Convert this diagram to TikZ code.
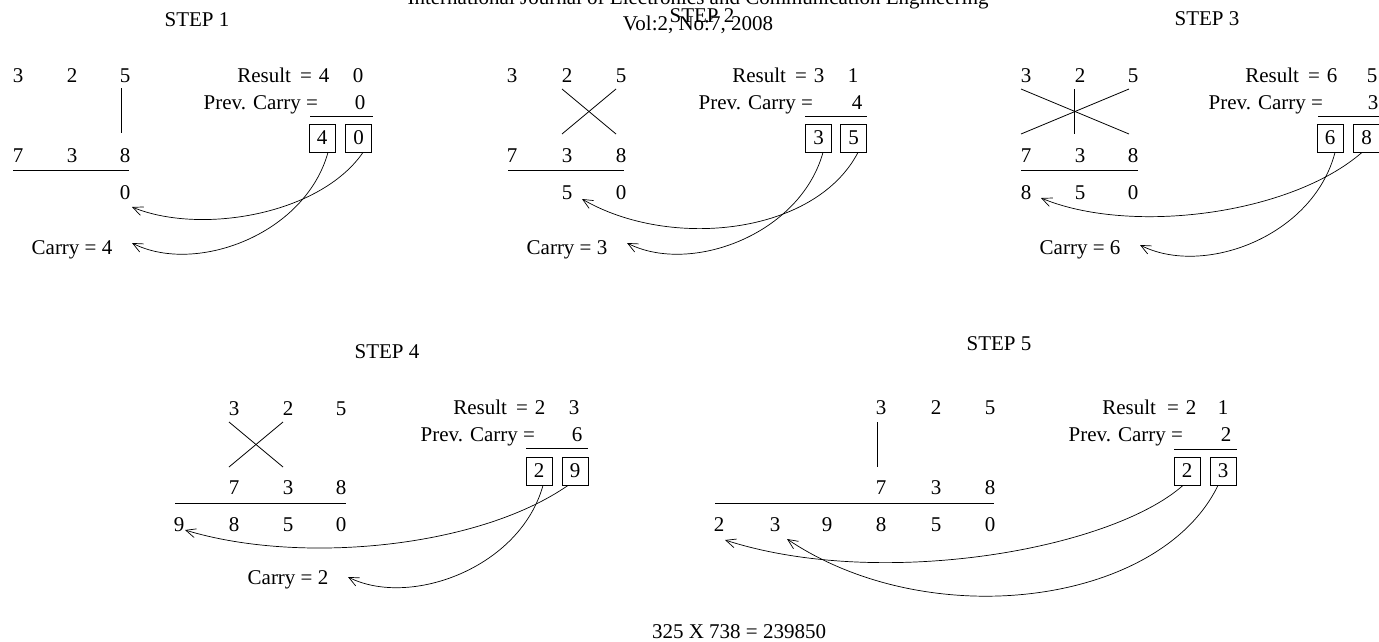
\documentclass[tikz,border=0pt]{standalone}
\usepackage{fontspec}
\setmainfont{Liberation Serif}
\usetikzlibrary{arrows.meta}
\tikzset{
  txt/.style={inner sep=0pt, outer sep=0pt, anchor=base},
  digbox/.style={draw, line width=0.8pt, minimum width=26pt, minimum height=28pt, inner sep=0pt},
  rule/.style={line width=0.8pt},
  arr/.style={line width=0.7pt, -{Straight Barb[length=10pt,width=9pt]}},
}
\begin{document}
\begin{tikzpicture}[x=1pt, y=-1pt, font=\fontsize{21}{25}\selectfont]
\useasboundingbox (0,0) rectangle (1379,641);
\clip (0,0) rectangle (1379,641);
% header
\node[txt] (hdr1) at (698,4) {International Journal of Electronics and Communication Engineering};
\node[txt] (hdr2) at (698,30) {Vol:2, No:7, 2008};

% ---------- STEP 1 ----------
\node[txt] (s1title) at (197,26) {STEP 1};
\node[txt] (s1a1) at (18,82) {3};
\node[txt] (s1a2) at (72,82) {2};
\node[txt] (s1a3) at (125,82) {5};
\node[txt] (s1b1) at (18,162) {7};
\node[txt] (s1b2) at (72,162) {3};
\node[txt] (s1b3) at (125,162) {8};
\draw[rule] (121,88) -- (121,133);
\draw[rule] (13,170) -- (129,170);
\node[txt] (s1r3) at (125,199) {0};
\node[txt] (s1carry) at (72,254) {Carry = 4};
\node[txt, anchor=base east] (s1res) at (291,82) {Result};
\node[txt] (s1eq) at (306,82) {=};
\node[txt] (s1rd1) at (324,82) {4};
\node[txt] (s1rd2) at (358,82) {0};
\node[txt, anchor=base east] (s1prev) at (318,109) {Prev. Carry =};
\node[txt] (s1pd) at (360,109) {0};
\draw[rule] (310,116) -- (373,116);
\node[digbox] (s1x1) at (322,138) {4};
\node[digbox] (s1x2) at (358.5,138) {0};
\coordinate (s1t1) at (132,243);
\coordinate (s1t2) at (132,207);
\draw[arr] ([xshift=6pt]s1x1.south) .. controls (305,235) and (195,275) .. (s1t1);
\draw[arr] ([xshift=4.5pt]s1x2.south) .. controls (320,215) and (200,235) .. (s1t2);

% ---------- STEP 2 ----------
\node[txt] (s2title) at (702,22) {STEP 2};
\node[txt] (s2a1) at (512,82) {3};
\node[txt] (s2a2) at (567,82) {2};
\node[txt] (s2a3) at (621,82) {5};
\node[txt] (s2b1) at (512,162) {7};
\node[txt] (s2b2) at (567,162) {3};
\node[txt] (s2b3) at (621,162) {8};
\draw[rule] (562,89) -- (616,134);
\draw[rule] (616,89) -- (562,134);
\draw[rule] (508,170) -- (624,170);
\node[txt] (s2r2) at (567,199) {5};
\node[txt] (s2r3) at (621,199) {0};
\node[txt] (s2carry) at (567,254) {Carry = 3};
\node[txt, anchor=base east] (s2res) at (786,82) {Result};
\node[txt] (s2eq) at (801,82) {=};
\node[txt] (s2rd1) at (819,82) {3};
\node[txt] (s2rd2) at (853,82) {1};
\node[txt, anchor=base east] (s2prev) at (813,109) {Prev. Carry =};
\node[txt] (s2pd) at (857,109) {4};
\draw[rule] (805,116) -- (867,116);
\node[digbox] (s2x1) at (818.5,138) {3};
\node[digbox] (s2x2) at (853.5,138) {5};
\coordinate (s2t1) at (627,243);
\coordinate (s2t2) at (582,199);
\draw[arr] ([xshift=4.5pt]s2x1.south) .. controls (800,235) and (690,275) .. (s2t1);
\draw[arr] ([xshift=4.5pt]s2x2.south) .. controls (815,235) and (670,250) .. (s2t2);

% ---------- STEP 3 ----------
\node[txt] (s3title) at (1207,25) {STEP 3};
\node[txt] (s3a1) at (1026,82) {3};
\node[txt] (s3a2) at (1080,82) {2};
\node[txt] (s3a3) at (1133,82) {5};
\node[txt] (s3b1) at (1026,162) {7};
\node[txt] (s3b2) at (1080,162) {3};
\node[txt] (s3b3) at (1133,162) {8};
\draw[rule] (1021,89) -- (1129,134);
\draw[rule] (1021,134) -- (1129,89);
\draw[rule] (1074,89) -- (1074,134);
\draw[rule] (1021,170) -- (1138,170);
\node[txt] (s3r1) at (1026,199) {8};
\node[txt] (s3r2) at (1080,199) {5};
\node[txt] (s3r3) at (1133,199) {0};
\node[txt] (s3carry) at (1080,254) {Carry = 6};
\node[txt, anchor=base east] (s3res) at (1299,82) {Result};
\node[txt] (s3eq) at (1314,82) {=};
\node[txt] (s3rd1) at (1332,82) {6};
\node[txt] (s3rd2) at (1372,82) {5};
\node[txt, anchor=base east] (s3prev) at (1323,109) {Prev. Carry =};
\node[txt] (s3pd) at (1373,109) {3};
\draw[rule] (1318,116) -- (1390,116);
\node[digbox] (s3x1) at (1330,138) {6};
\node[digbox] (s3x2) at (1366.5,138) {8};
\coordinate (s3t1) at (1140,245);
\coordinate (s3t2) at (1041,198);
\draw[arr] ([xshift=5pt]s3x1.south) .. controls (1313,237) and (1203,277) .. (s3t1);
\draw[arr] ([xshift=-4.5pt]s3x2.south) .. controls (1290,215) and (1130,235) .. (s3t2);

% ---------- STEP 4 ----------
\node[txt] (s4title) at (387,358) {STEP 4};
\node[txt] (s4a2) at (234,415) {3};
\node[txt] (s4a3) at (288,415) {2};
\node[txt] (s4a4) at (341,415) {5};
\node[txt] (s4b2) at (234,494) {7};
\node[txt] (s4b3) at (288,494) {3};
\node[txt] (s4b4) at (341,494) {8};
\draw[rule] (229,422) -- (283,467);
\draw[rule] (283,422) -- (229,467);
\draw[rule] (175,503) -- (346,503);
\node[txt] (s4r1) at (179,531) {9};
\node[txt] (s4r2) at (234,531) {8};
\node[txt] (s4r3) at (288,531) {5};
\node[txt] (s4r4) at (341,531) {0};
\node[txt] (s4carry) at (288,584) {Carry = 2};
\node[txt, anchor=base east] (s4res) at (507,414) {Result};
\node[txt] (s4eq) at (522,414) {=};
\node[txt] (s4rd1) at (540,414) {2};
\node[txt] (s4rd2) at (574,414) {3};
\node[txt, anchor=base east] (s4prev) at (535,441) {Prev. Carry =};
\node[txt] (s4pd) at (577,441) {6};
\draw[rule] (526,448) -- (588,448);
\node[digbox] (s4x1) at (539,471) {2};
\node[digbox] (s4x2) at (575,471) {9};
\coordinate (s4t1) at (348,577);
\coordinate (s4t2) at (185,530);
\draw[arr] ([xshift=4pt]s4x1.south) .. controls (520,568) and (410,608) .. (s4t1);
\draw[arr] ([xshift=-7pt]s4x2.south) .. controls (478,548) and (300,565) .. (s4t2);

% ---------- STEP 5 ----------
\node[txt] (s5title) at (999,350) {STEP 5};
\node[txt] (s5a4) at (881,414) {3};
\node[txt] (s5a5) at (936,414) {2};
\node[txt] (s5a6) at (990,414) {5};
\node[txt] (s5b4) at (881,494) {7};
\node[txt] (s5b5) at (936,494) {3};
\node[txt] (s5b6) at (990,494) {8};
\draw[rule] (877,422) -- (877,467);
\draw[rule] (715,503) -- (994,503);
\node[txt] (s5r1) at (719,531) {2};
\node[txt] (s5r2) at (775,531) {3};
\node[txt] (s5r3) at (827,531) {9};
\node[txt] (s5r4) at (881,531) {8};
\node[txt] (s5r5) at (936,531) {5};
\node[txt] (s5r6) at (990,531) {0};
\node[txt, anchor=base east] (s5res) at (1156,414) {Result};
\node[txt] (s5eq) at (1173,414) {=};
\node[txt] (s5rd1) at (1191,414) {2};
\node[txt] (s5rd2) at (1223,414) {1};
\node[txt, anchor=base east] (s5prev) at (1183,441) {Prev. Carry =};
\node[txt] (s5pd) at (1226,441) {2};
\draw[rule] (1174,449) -- (1237,449);
\node[digbox] (s5x1) at (1187,471) {2};
\node[digbox] (s5x2) at (1223,471) {3};
\coordinate (s5t1) at (725,540);
\coordinate (s5t2) at (787,539);
\draw[arr] ([xshift=-4pt]s5x1.south) .. controls (1110,550) and (880,590) .. (s5t1);
\draw[arr] ([xshift=-5pt]s5x2.south) .. controls (1160,605) and (930,635) .. (s5t2);

% final equation
\node[txt, anchor=base west] (eqn) at (652,638) {325 X 738 = 239850};
\end{tikzpicture}
\end{document}
